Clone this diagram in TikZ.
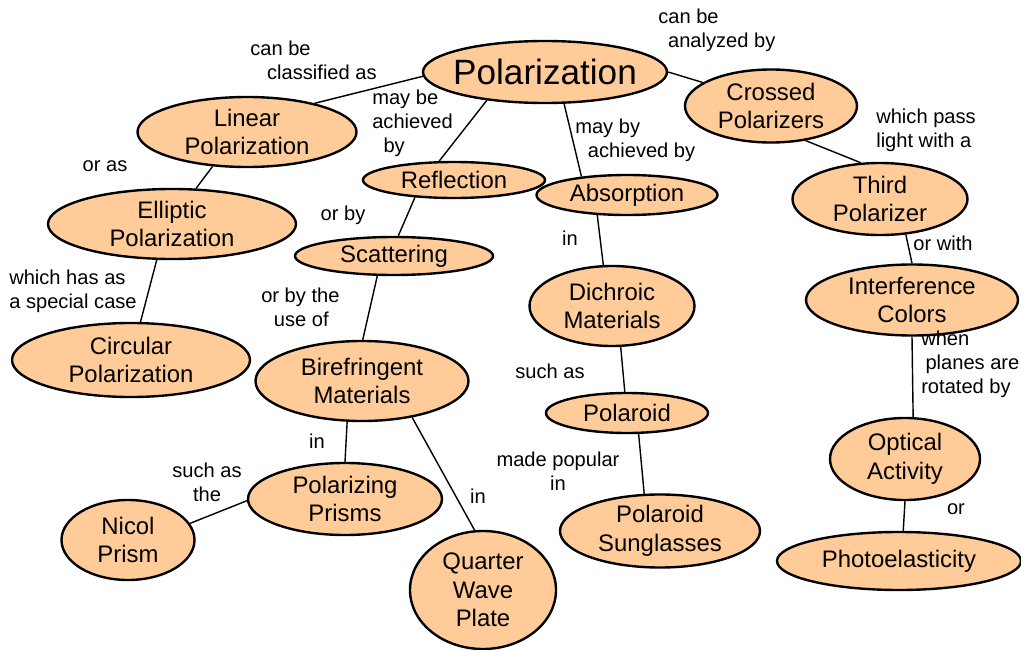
\documentclass[tikz,border=0pt]{standalone}
\usepackage{fontspec}
\setmainfont{Liberation Sans}
\usepackage{tikz}
\usetikzlibrary{shapes.geometric}

\definecolor{conceptfill}{HTML}{FFCC99}
\newcommand{\conceptfont}{\fontsize{17}{20.3}\selectfont}
\newcommand{\linkfont}{\fontsize{14.3}{17}\selectfont}

\begin{document}
\begin{tikzpicture}[
  x=0.025cm, y=-0.025cm,
  concept/.style={ellipse, draw, line width=1.7pt, fill=conceptfill,
                  inner sep=0pt, align=center, font=\conceptfont},
  dims/.style 2 args={minimum width=#1*0.025cm, minimum height=#2*0.025cm},
  link/.style={align=center, inner sep=0pt, font=\linkfont},
  leftlink/.style={link, align=left, anchor=west},
  line/.style={line width=1pt},
]
  \useasboundingbox (0,0) rectangle (1021,650);

  % concepts
  \node[concept, dims={244}{62}, inner xsep=-5pt, font=\fontsize{25}{30}\selectfont] (polar) at (545,72) {Polarization};
  \node[concept, dims={219}{70}] (linear)   at (247,132) {Linear\\Polarization};
  \node[concept, dims={248}{70}] (elliptic) at (172,224) {Elliptic\\Polarization};
  \node[concept, dims={238}{74}] (circular) at (131,360) {Circular\\Polarization};
  \node[concept, dims={182}{36}] (reflect)  at (454,180) {Reflection};
  \node[concept, dims={198}{38}] (scatter)  at (394,256) {Scattering};
  \node[concept, dims={213}{80}] (biref)    at (362,381) {Birefringent\\Materials};
  \node[concept, dims={194}{72}] (prisms)   at (345,499) {Polarizing\\Prisms};
  \node[concept, dims={133}{80}] (nicol)    at (128,540) {Nicol\\Prism};
  \node[concept, dims={146}{118}] (quarter) at (483,590) {Quarter\\Wave\\Plate};
  \node[concept, dims={181}{40}] (absorb)   at (627,195) {Absorption};
  \node[concept, dims={165}{80}] (dichroic) at (612,306) {Dichroic\\Materials};
  \node[concept, dims={162}{40}] (polaroid) at (627,413) {Polaroid};
  \node[concept, dims={200}{73}] (glasses)  at (660,531) {Polaroid\\Sunglasses};
  \node[concept, dims={172}{73}] (crossed)  at (771,106) {Crossed\\Polarizers};
  \node[concept, dims={175}{72}] (third)    at (880,199) {Third\\Polarizer};
  \node[concept, dims={212}{71}] (interf)   at (912,300) {Interference\\Colors};
  \node[concept, dims={150}{82}] (optical)  at (905,459) {Optical\\Activity};
  \node[concept, dims={244}{58}] (photo)    at (899,561) {Photoelasticity};

  % linking phrases
  \node[leftlink] (l1)  at (250,60)  {can be\\\hspace*{12pt}classified as};
  \node[leftlink] (l2)  at (372,123) {may be\\achieved\\\hspace*{8pt}by};
  \node[link]     (l3)  at (105,166) {or as};
  \node[leftlink] (l4)  at (9,291)   {which has as\\a special case};
  \node[link]     (l5)  at (343,215) {or by};
  \node[leftlink] (l6)  at (261,307) {or by the\\\hspace*{9pt}use of};
  \node[link]     (l7)  at (317,441) {in};
  \node[link]     (l8)  at (207,482) {such as\\the};
  \node[link]     (l9)  at (478,496) {in};
  \node[leftlink] (l10) at (575,140) {may by\\\hspace*{9pt}achieved by};
  \node[link]     (l11) at (570,238) {in};
  \node[link]     (l12) at (550,371) {such as};
  \node[link]     (l13) at (558,471) {made popular\\in};
  \node[leftlink] (l14) at (658,30)  {can be\\\hspace*{7pt}analyzed by};
  \node[leftlink] (l15) at (876,130) {which pass\\light with a};
  \node[link]     (l16) at (943,243) {or with};
  \node[leftlink] (l17) at (921,364) {when\\\hspace*{3pt}planes are\\rotated by};
  \node[link]     (l18) at (956,509) {or};

  % connections
  \draw[line] (polar.182)    -- (linear.23);
  \draw[line] (polar.206)    -- (reflect.128);
  \draw[line] (polar.301)    -- (absorb.158);
  \draw[line] (polar.0)      -- (crossed.161);
  \draw[line] (linear.225)   -- (elliptic.56);
  \draw[line] (elliptic.247) -- (circular.76);
  \draw[line] (reflect.204)  -- (scatter.78);
  \draw[line] (scatter.230)  -- (biref.89);
  \draw[line] (biref.250)    -- (prisms.90);
  \draw[line] (biref.324)    -- (quarter.98);
  \draw[line] (prisms.181)   -- (nicol.15);
  \draw[line] (absorb.214)   -- (dichroic.102);
  \draw[line] (dichroic.282) -- (polaroid.96);
  \draw[line] (polaroid.299) -- (glasses.113);
  \draw[line] (crossed.315)  -- (third.118);
  \draw[line] (third.306)    -- (interf.90);
  \draw[line] (interf.270)   -- (optical.79);
  \draw[line] (optical.270)  -- (photo.82);
\end{tikzpicture}
\end{document}
